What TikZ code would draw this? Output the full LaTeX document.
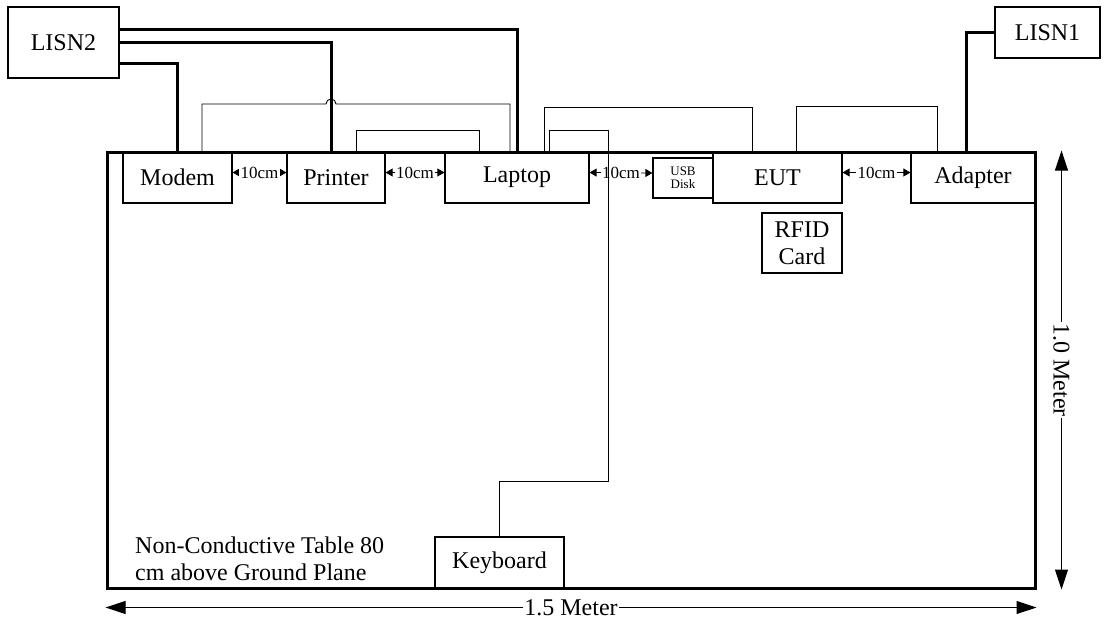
\documentclass[tikz,border=0pt]{standalone}
\usepackage{fontspec}
\setmainfont{Liberation Serif}
\usetikzlibrary{arrows.meta, positioning, calc}

\begin{document}
\begin{tikzpicture}[
  x=1pt, y=-1pt,
  tablebox/.style={draw, line width=3pt, inner sep=0pt},
  device/.style={draw, line width=1.2pt, inner sep=0pt, minimum height=51pt, font=\fontsize{24}{27}\selectfont},
  lisn/.style={device, fill=white},
  smallbox/.style={draw, line width=1.2pt, inner sep=0pt, font=\fontsize{13}{15}\selectfont, align=center},
  power/.style={line width=3pt},
  cable/.style={line width=0.9pt},
  gap/.style={{Triangle[length=7pt,width=8pt]}-{Triangle[length=7pt,width=8pt]}, line width=0.8pt},
  gaplabel/.style={fill=white, inner xsep=1.5pt, inner ysep=0.5pt, font=\fontsize{17}{19}\selectfont},
  dim/.style={{Triangle[length=20pt,width=13pt]}-{Triangle[length=20pt,width=13pt]}, line width=1pt},
  dimlabel/.style={fill=white, inner sep=1pt, font=\fontsize{24}{27}\selectfont},
]
\useasboundingbox (0,0) rectangle (1107,622);

% Table
\node[tablebox, minimum width=928pt, minimum height=436pt] (table) at (571,370) {};

% Devices on the table
\node[device, minimum width=109pt] (modem) at (177.5,177.5) {Modem};
\node[device, minimum width=98pt] (printer) at (336,177.5) {Printer};
\node[device, minimum width=144pt] (laptop) at (517,177.5) {Laptop};
\node[smallbox, minimum width=60pt, minimum height=40pt] (usb) at (683,178) {USB\\[-2pt]Disk};
\node[device, minimum width=129pt] (eut) at (777.5,177.5) {EUT};
\node[device, minimum width=124pt] (adapter) at (973,177.5) {Adapter};
\node[device, minimum width=80pt, minimum height=60pt, align=center] (rfid) at (802,243) {RFID\\Card};
\node[device, minimum width=129pt] (keyboard) at (499.5,562.5) {Keyboard};

% LISNs
\node[lisn, minimum width=111pt, minimum height=71pt] (lisn2) at (63.5,42.5) {LISN2};
\node[lisn, minimum width=105pt] (lisn1) at (1047.5,32.5) {LISN1};

% Table note
\node[anchor=west, align=left, inner sep=0pt, font=\fontsize{24}{27}\selectfont] (note) at (135,558.5)
  {Non-Conductive Table 80\\cm above Ground Plane};

% Spacing between devices
\draw[gap] ([yshift=5pt]modem.east) -- node[gaplabel] {10cm} ([yshift=5pt]printer.west);
\draw[gap] ([yshift=5pt]printer.east) -- node[gaplabel] {10cm} ([yshift=5pt]laptop.west);
\draw[gap] ([yshift=5pt]laptop.east) -- node[gaplabel] {10cm} ([yshift=5pt]usb.west);
\draw[gap] ([yshift=5pt]eut.east) -- node[gaplabel] {10cm} ([yshift=5pt]adapter.west);

% Signal cables
\coordinate (hop) at (331,104);
\draw[cable] ([xshift=24.5pt]modem.north) |- ([xshift=-5pt]hop)
  arc[start angle=180, end angle=0, radius=5pt] -| ([xshift=-7pt]laptop.north);
\draw[cable] ([xshift=20pt]printer.north) -- ++(0,-21) -| ([xshift=-38pt]laptop.north);
\draw[cable] ([xshift=27pt]laptop.north) -- ++(0,-44) -| ([xshift=-25pt]eut.north);
\draw[cable] ([xshift=19pt]eut.north) -- ++(0,-45) -| ([xshift=-36pt]adapter.north);
\draw[cable] (keyboard.north) -- ++(0,-55) -- ++(109,0) -- ++(0,-351) -| ([xshift=32pt]laptop.north);

% Power lines
\draw[power] ([yshift=13pt]lisn2.east) -| (laptop.north);
\draw[power] (lisn2.east) -| ([xshift=-5pt]printer.north);
\draw[power] ([yshift=-21pt]lisn2.east) -| (modem.north);
\draw[power] (lisn1.west) -| ([xshift=-7pt]adapter.north);

% Dimensions
\draw[dim] ([yshift=-18pt]table.south west) -- node[dimlabel] {1.5 Meter} ([yshift=-18pt]table.south east);
\draw[dim] ([xshift=25pt]table.north east) -- node[dimlabel, rotate=-90] {1.0 Meter} ([xshift=25pt]table.south east);

\end{tikzpicture}
\end{document}
